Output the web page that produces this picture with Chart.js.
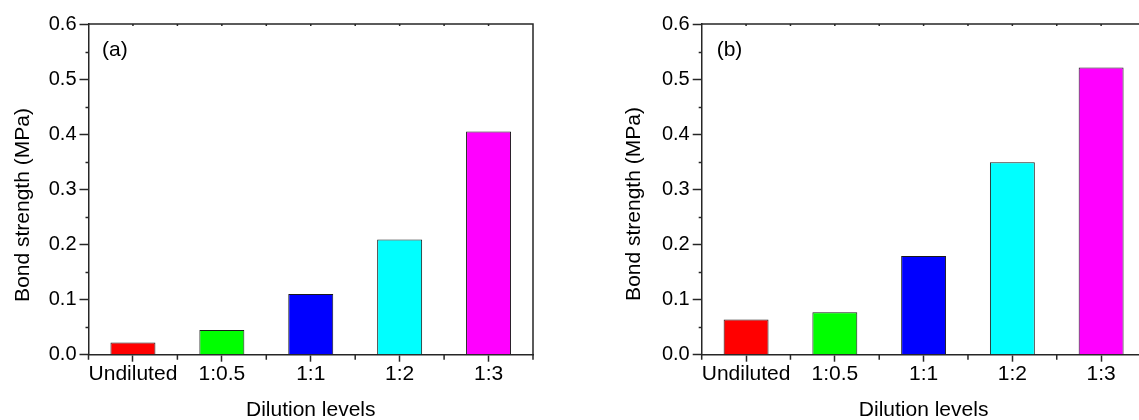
<!DOCTYPE html>
<html>
<head>
<meta charset="utf-8">
<title>Bond strength vs dilution</title>
<script src="https://cdn.jsdelivr.net/npm/chart.js@4.4.1/dist/chart.umd.min.js"></script>
<style>
    html, body {
        margin: 0;
        padding: 0;
        background: #fff;
    }
    #wrap {
        position: relative;
        width: 1139px;
        height: 420px;
        overflow: hidden;
    }
    #wrap canvas {
        position: absolute;
        top: 0;
    }
</style>
</head>
<body>
<div id="wrap">
    <canvas id="panelA" width="570" height="420" style="left:0"></canvas>
    <canvas id="panelB" width="600" height="420" style="left:570px"></canvas>
</div>
<script>
// Data
const categories = ['Undiluted', '1:0.5', '1:1', '1:2', '1:3'];
const strengthA = [0.022, 0.045, 0.110, 0.209, 0.405];
const strengthB = [0.064, 0.077, 0.179, 0.349, 0.521];
const barColors = ['#ff0000', '#00ff00', '#0000ff', '#00ffff', '#ff00ff'];
const yMin = 0;
const yMax = 0.6;
const yStep = 0.1;

const AXIS_COLOR = '#262626';
const FONT = "'Liberation Sans', Arial, Helvetica, sans-serif";

Chart.defaults.font.family = FONT;
Chart.defaults.color = '#000';

/**
 * Draws the closed frame, minor ticks and the free-standing texts
 * (panel letter, axis titles) that Chart.js has no slot for.
 */
const frameDecor = {
    id: 'frameDecor',
    afterDraw(chart, args, opts) {
        const { ctx, chartArea: a } = chart;
        const x = chart.scales.x;
        const y = chart.scales.y;
        const half = (x.getPixelForValue(1) - x.getPixelForValue(0)) / 2;

        ctx.save();
        ctx.strokeStyle = AXIS_COLOR;
        ctx.lineWidth = 1.5;

        // top + right frame
        ctx.beginPath();
        ctx.moveTo(a.left, a.top);
        ctx.lineTo(a.right, a.top);
        ctx.lineTo(a.right, a.bottom);
        ctx.stroke();

        // minor y ticks, halfway between the labelled ones
        ctx.beginPath();
        for (let v = yMin + yStep / 2; v < yMax; v += yStep) {
            const py = Math.round(y.getPixelForValue(v)) + 0.5;
            ctx.moveTo(a.left - 3, py);
            ctx.lineTo(a.left, py);
        }
        // category boundary ticks on the bottom axis
        for (let i = 0; i <= categories.length; i++) {
            const px = x.getPixelForValue(0) - half + i * 2 * half;
            ctx.moveTo(px, a.bottom);
            ctx.lineTo(px, a.bottom + 5);
        }
        // small inner ticks along the top edge
        for (let i = 1; i < categories.length * 2; i++) {
            const px = x.getPixelForValue(0) - half + i * half;
            ctx.moveTo(px, a.top);
            ctx.lineTo(px, a.top + 2);
        }
        ctx.stroke();

        // texts
        ctx.fillStyle = '#000';
        ctx.font = '21px ' + FONT;
        ctx.textBaseline = 'alphabetic';

        ctx.textAlign = 'left';
        ctx.fillText(opts.panel, a.left + opts.panelDx, 55.5);

        ctx.textAlign = 'center';
        ctx.fillText('Dilution levels', (a.left + a.right) / 2, 415.5);

        ctx.translate(opts.yTitleX, opts.yTitleY);
        ctx.rotate(-Math.PI / 2);
        ctx.textBaseline = 'middle';
        ctx.fillText('Bond strength (MPa)', 0, 0);
        ctx.restore();
    }
};

function buildPanel(canvasId, values, opts) {
    const el = document.getElementById(canvasId);
    return new Chart(el, {
        type: 'bar',
        data: {
            labels: categories,
            datasets: [{
                data: values,
                backgroundColor: barColors,
                borderColor: '#1a1a1a',
                borderWidth: 1,
                borderSkipped: 'bottom',
                categoryPercentage: 1.0,
                barPercentage: 0.506
            }]
        },
        options: {
            responsive: false,
            animation: false,
            devicePixelRatio: 1,
            layout: {
                padding: { left: 0, right: opts.padRight, top: 24, bottom: 0 }
            },
            plugins: {
                legend: { display: false },
                tooltip: { enabled: false },
                frameDecor: opts
            },
            scales: {
                x: {
                    type: 'category',
                    offset: true,
                    grid: {
                        offset: false,
                        drawOnChartArea: false,
                        tickLength: 7,
                        tickWidth: 1.5,
                        tickColor: AXIS_COLOR
                    },
                    border: { display: true, color: AXIS_COLOR, width: 1.5 },
                    ticks: {
                        font: { size: 21 },
                        color: '#000',
                        padding: 0,
                        maxRotation: 0,
                        autoSkip: false
                    },
                    afterFit(scale) { scale.height = 65.3; }
                },
                y: {
                    min: yMin,
                    max: yMax,
                    grid: {
                        drawOnChartArea: false,
                        tickLength: 9,
                        tickWidth: 1.5,
                        tickColor: AXIS_COLOR
                    },
                    border: { display: true, color: AXIS_COLOR, width: 1.5 },
                    ticks: {
                        stepSize: yStep,
                        font: { size: 20 },
                        color: '#000',
                        padding: 3,
                        callback: (v) => Number(v).toFixed(1)
                    },
                    afterFit(scale) { scale.width = opts.axisLeft; }
                }
            }
        },
        plugins: [frameDecor]
    });
}

buildPanel('panelA', strengthA, {
    panel: '(a)', panelDx: 13.5,
    axisLeft: 88.5, padRight: 37,
    yTitleX: 23, yTitleY: 205
});

buildPanel('panelB', strengthB, {
    panel: '(b)', panelDx: 15,
    axisLeft: 131.7, padRight: 24.5,
    yTitleX: 64, yTitleY: 204
});
</script>
</body>
</html>
